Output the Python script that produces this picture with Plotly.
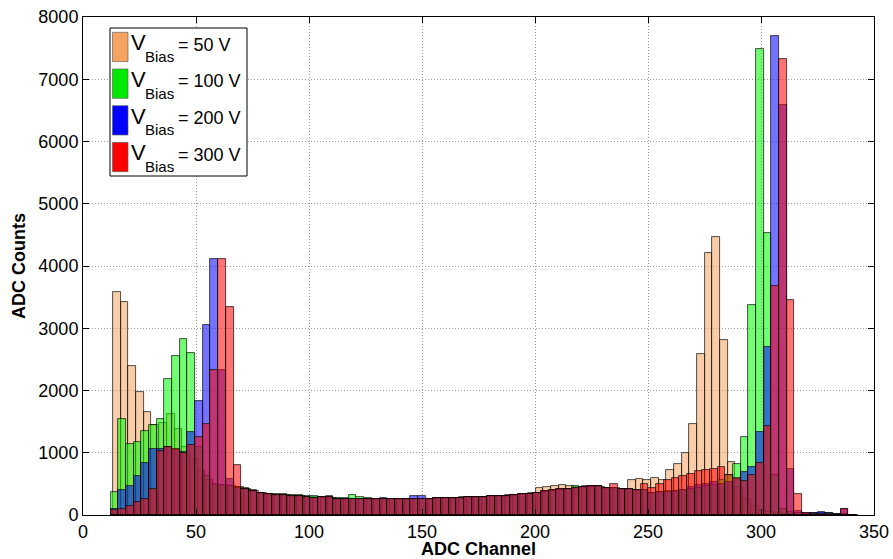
import plotly.graph_objects as go

# Histogram bins (ADC channels); orange run uses a slightly shifted bin grid
bin_width = 3.4
bin_start = 12.2
bin_start_50v = 13.3

counts_50v = [
    3575, 3425, 2396, 1978, 1662, 1440, 1470, 1619, 1378, 1100,
    900, 700, 560, 490, 480, 470, 450, 420, 390, 360,
    335, 325, 320, 305, 300, 290, 285, 280, 280, 265,
    260, 255, 250, 260, 260, 255, 255, 250, 255, 260,
    260, 265, 270, 275, 280, 285, 285, 290, 295, 300,
    305, 315, 320, 335, 350, 440, 455, 470, 487, 466,
    455, 460, 465, 450, 440, 430, 420, 566, 582, 566,
    592, 556, 717, 813, 996, 1457, 2592, 4201, 4469, 2806,
    851, 450, 250, 150, 80, 50, 30, 20, 10, 5,
    0, 0, 0, 0, 0, 0, 0,
]

counts_100v = [
    370, 1549, 1147, 1174, 1351, 1442, 1549, 2192, 2551, 2835,
    2610, 1100, 620, 500, 480, 470, 450, 430, 400, 360,
    345, 335, 330, 315, 315, 300, 300, 290, 300, 280,
    270, 325, 290, 275, 265, 255, 255, 250, 255, 260,
    260, 265, 270, 275, 280, 280, 285, 290, 290, 300,
    305, 310, 320, 330, 345, 360, 375, 390, 405, 420,
    460, 450, 455, 460, 440, 430, 420, 415, 405, 395,
    360, 370, 380, 385, 400, 420, 440, 460, 480, 560,
    640, 820, 1254, 3369, 7481, 4538, 640, 100, 50, 30,
    20, 30, 40, 30, 20, 10, 0,
]

counts_200v = [
    100, 400, 470, 620, 835, 1066, 1060, 1090, 1050, 1010,
    1335, 1828, 3050, 4111, 2325, 572, 430, 420, 390, 355,
    330, 320, 325, 305, 300, 290, 280, 285, 285, 265,
    265, 255, 250, 265, 260, 270, 255, 250, 255, 300,
    300, 265, 270, 275, 280, 280, 285, 290, 290, 300,
    305, 310, 320, 330, 345, 360, 380, 395, 410, 420,
    435, 450, 460, 465, 440, 430, 420, 415, 405, 395,
    360, 365, 375, 380, 396, 450, 476, 503, 530, 503,
    530, 584, 689, 770, 1333, 2700, 7701, 6586, 744, 60,
    40, 40, 45, 30, 20, 100, 0,
]

counts_300v = [
    74, 100, 138, 208, 262, 422, 1030, 1100, 1060, 1000,
    1120, 1254, 1469, 2325, 4111, 3345, 808, 420, 390, 355,
    330, 320, 325, 305, 300, 290, 280, 285, 285, 265,
    265, 255, 250, 265, 260, 255, 255, 250, 255, 260,
    260, 265, 270, 275, 280, 280, 285, 290, 290, 300,
    305, 310, 320, 330, 345, 360, 380, 395, 410, 420,
    435, 450, 460, 465, 440, 492, 420, 415, 405, 500,
    430, 500, 560, 600, 620, 660, 700, 720, 740, 770,
    640, 600, 541, 637, 840, 1425, 3680, 7320, 3450, 342,
    40, 20, 15, 10, 5, 100, 0,
]

series = [
    ("50 V", counts_50v, bin_start_50v, "rgba(244,164,96,0.55)", "rgb(244,164,96)"),
    ("100 V", counts_100v, bin_start, "rgba(0,255,0,0.55)", "rgb(0,235,0)"),
    ("200 V", counts_200v, bin_start, "rgba(0,0,255,0.55)", "rgb(0,0,255)"),
    ("300 V", counts_300v, bin_start, "rgba(255,0,0,0.55)", "rgb(255,0,0)"),
]

fig = go.Figure()
for label, counts, start, fill, _ in series:
    centers = [start + bin_width * (i + 0.5) for i in range(len(counts))]
    fig.add_trace(go.Bar(
        x=centers, y=counts, width=bin_width, name=label,
        marker=dict(color=fill, line=dict(color="rgba(0,0,0,0.85)", width=0.8)),
        showlegend=False,
    ))

font_family = "Arial, Liberation Sans, sans-serif"

# Plot area in pixels
L, R, T, B = 83, 19, 17, 44
W, H = 893, 559
pw, ph = W - L - R, H - T - B


def px_x(x):
    return (x - L) / pw


def px_y(y):
    return (H - B - y) / ph


shapes = []
annotations = []

# Legend box
shapes.append(dict(type="rect", xref="paper", yref="paper",
                   x0=px_x(110), x1=px_x(247), y0=px_y(176), y1=px_y(28),
                   line=dict(color="black", width=1), fillcolor="white", layer="above"))
for i, (label, _, _, _, solid) in enumerate(series):
    top = 32.3 + 36.7 * i
    shapes.append(dict(type="rect", xref="paper", yref="paper",
                       x0=px_x(112.5), x1=px_x(128), y0=px_y(top + 29.3), y1=px_y(top),
                       line=dict(color="rgba(90,90,90,0.8)", width=0.8), fillcolor=solid,
                       layer="above"))
    annotations.append(dict(text="V", xref="paper", yref="paper", x=px_x(128.5), y=px_y(top + 10.5),
                            xanchor="left", yanchor="middle", showarrow=False,
                            font=dict(family=font_family, size=22, color="black")))
    annotations.append(dict(text="Bias", xref="paper", yref="paper", x=px_x(142.5), y=px_y(top + 24),
                            xanchor="left", yanchor="middle", showarrow=False,
                            font=dict(family=font_family, size=15, color="black")))
    annotations.append(dict(text="= " + label, xref="paper", yref="paper", x=px_x(175.5), y=px_y(top + 12.5),
                            xanchor="left", yanchor="middle", showarrow=False,
                            font=dict(family=font_family, size=18, color="black")))

fig.update_layout(
    width=W, height=H,
    margin=dict(l=L, r=R, t=T, b=B, pad=0),
    barmode="overlay",
    bargap=0,
    plot_bgcolor="white",
    paper_bgcolor="white",
    font=dict(family=font_family, size=18, color="black"),
    shapes=shapes,
    annotations=annotations,
)

axis_common = dict(
    showline=True, linecolor="black", linewidth=1, mirror="ticks",
    ticks="inside", ticklen=6, tickcolor="black",
    showgrid=True, gridcolor="rgba(130,130,130,0.8)", griddash="1px,2px", gridwidth=1,
    zeroline=False, automargin=False,
    tickfont=dict(family=font_family, size=18, color="black"),
)

fig.update_xaxes(range=[0, 350], dtick=50, tick0=0,
                 title=dict(text="<b>ADC Channel</b>", standoff=7,
                            font=dict(family=font_family, size=18)),
                 **axis_common)
fig.update_yaxes(range=[0, 8000], dtick=1000, tick0=0,
                 title=dict(text="<b>ADC Counts</b>", standoff=8,
                            font=dict(family=font_family, size=18)),
                 **axis_common)

fig.write_html("out.html")
